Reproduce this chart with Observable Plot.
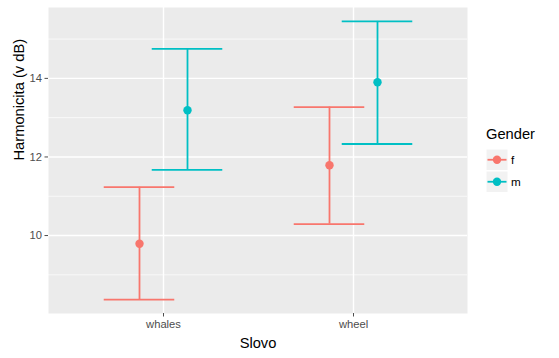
<!DOCTYPE html>
<html><head><meta charset="utf-8">
<script src="https://cdn.jsdelivr.net/npm/d3@7"></script>
<script src="https://cdn.jsdelivr.net/npm/@observablehq/plot@0.6"></script>
<style>
body{margin:0;background:#fff;font-family:"Liberation Sans",Arial,sans-serif;}
#wrap{position:relative;width:559px;height:358px;overflow:hidden;}
#legend{position:absolute;left:486px;top:125px;color:#000;}
#legend .title{font-size:14.7px;line-height:18px;margin-bottom:6px;}
#legend .row{display:flex;align-items:center;height:21.5px;}
#legend .row span{font-size:11.7px;margin-left:3px;}
</style></head><body><div id="wrap"></div>
<script>
// Data
const words = ["whales", "wheel"];
const genders = ["f", "m"];
const genderColors = ["#F8766D", "#00BFC4"];
const meanF = [9.79, 11.79];
const lowF  = [8.37, 10.29];
const highF = [11.23, 13.27];
const meanM = [13.19, 13.90];
const lowM  = [11.67, 12.33];
const highM = [14.75, 15.45];
const yTicks = [10, 12, 14];
const yMinor = [9, 11, 13, 15];
const xTitle = "Slovo";
const yTitle = "Harmonicita (v dB)";
const legendTitle = "Gender";

const rows = [];
words.forEach((w, i) => {
  rows.push({word: w, gender: "f", mean: meanF[i], low: lowF[i], high: highF[i]});
  rows.push({word: w, gender: "m", mean: meanM[i], low: lowM[i], high: highM[i]});
});
const lo = d3.min(rows, d => d.low), hi = d3.max(rows, d => d.high);
const pad = (hi - lo) * 0.05;

const W = 559, ML = 48, MR = 92;
const paddingOuter = 0.1;
const bandwidth = (W - ML - MR) / (words.length + 2 * paddingOuter);
const dodgeFor = {f: -24, m: 24};
const capHalf = 35.5;
const capInset = bandwidth / 2 - capHalf;
const lw = 1.8;

const dataMarks = genders.flatMap(g => {
  const sub = rows.filter(d => d.gender === g);
  const dx = dodgeFor[g];
  return [
    Plot.ruleX(sub, {x: "word", y1: "low", y2: "high", stroke: "gender", strokeWidth: lw, dx}),
    Plot.tickY(sub, {x: "word", y: "low", stroke: "gender", strokeWidth: lw, dx, insetLeft: capInset, insetRight: capInset}),
    Plot.tickY(sub, {x: "word", y: "high", stroke: "gender", strokeWidth: lw, dx, insetLeft: capInset, insetRight: capInset}),
    Plot.dot(sub, {x: "word", y: "mean", r: 4.2, fill: "gender", stroke: "none", dx})
  ];
});

const chart = Plot.plot({
  width: W,
  height: 358,
  marginLeft: ML,
  marginRight: MR,
  marginTop: 7,
  marginBottom: 45,
  style: {fontFamily: "Liberation Sans, Arial, sans-serif", fontSize: "11px", background: "#fff", overflow: "visible"},
  x: {type: "band", domain: words, paddingInner: 0, paddingOuter},
  y: {domain: [lo - pad, hi + pad]},
  color: {domain: genders, range: genderColors},
  marks: [
    Plot.frame({fill: "#EBEBEB", stroke: "none"}),
    Plot.gridY(yMinor, {stroke: "#fff", strokeOpacity: 1, strokeWidth: 0.7}),
    Plot.gridY(yTicks, {stroke: "#fff", strokeOpacity: 1, strokeWidth: 1.4}),
    Plot.gridX({stroke: "#fff", strokeOpacity: 1, strokeWidth: 1.4}),
    Plot.axisY(yTicks, {tickSize: 3.5, tickPadding: 3, label: null, color: "#4D4D4D", fontSize: 11.2}),
    Plot.axisX({tickSize: 3.5, tickPadding: 3, label: null, color: "#4D4D4D", fontSize: 11.2}),
    ...dataMarks,
    Plot.text([yTitle], {text: d => d, frameAnchor: "left", dx: -29.5, rotate: -90, fontSize: 14.7, fill: "#000", lineAnchor: "middle"}),
    Plot.text([xTitle], {text: d => d, frameAnchor: "bottom", dy: 29.5, fontSize: 14.7, fill: "#000", lineAnchor: "middle"})
  ]
});
const wrap = document.getElementById("wrap");
wrap.appendChild(chart);

// Legend (ggplot style: line + point keys)
const legend = document.createElement("div");
legend.id = "legend";
let html = `<div class="title">${legendTitle}</div>`;
genders.forEach((g, i) => {
  html += `<div class="row"><svg width="22" height="21.5" style="display:block">
    <rect x="0" y="0" width="22" height="21.5" fill="#F2F2F2" stroke="#fff" stroke-width="1"/>
    <line x1="1.5" x2="20.5" y1="10.75" y2="10.75" stroke="${genderColors[i]}" stroke-width="${lw}"/>
    <circle cx="11" cy="10.75" r="4.2" fill="${genderColors[i]}"/></svg><span>${g}</span></div>`;
});
legend.innerHTML = html;
wrap.appendChild(legend);
</script>
</body></html>
